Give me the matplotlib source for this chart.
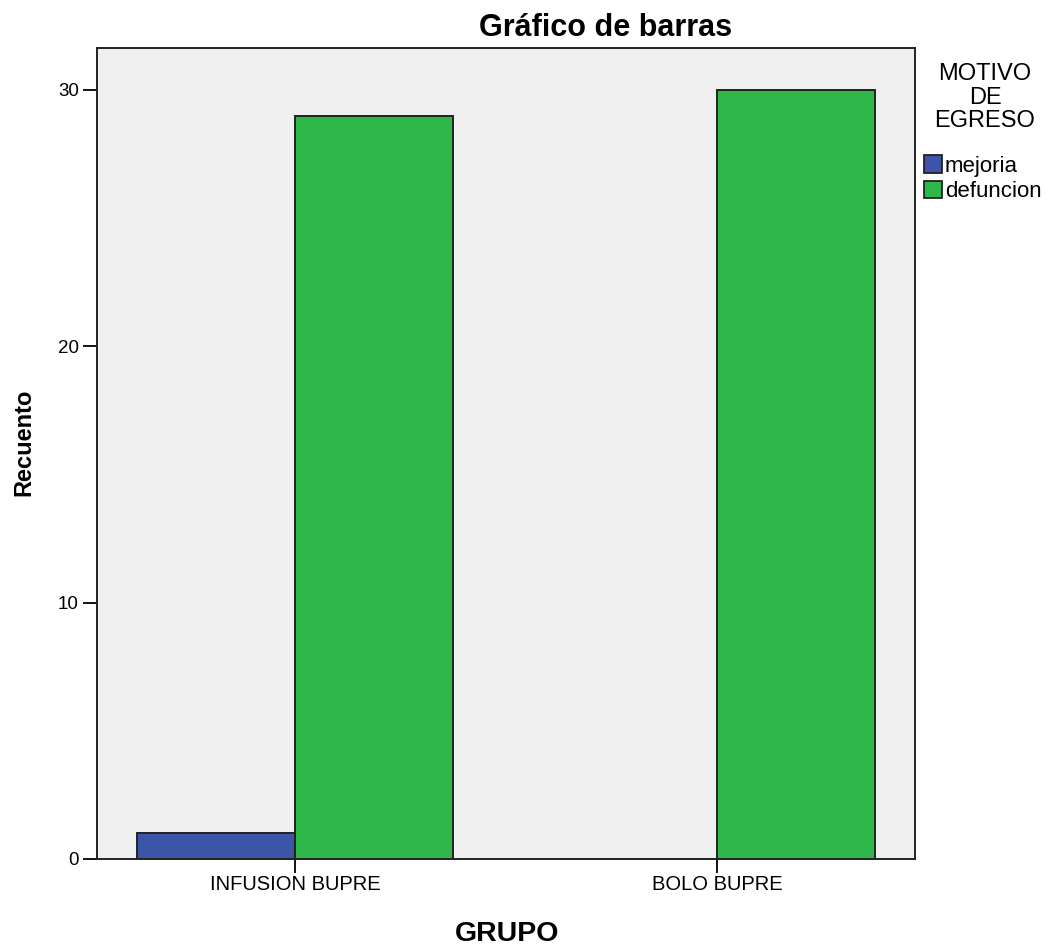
import numpy as np
import matplotlib
matplotlib.use("Agg")
import matplotlib.pyplot as plt
from matplotlib.patches import Patch

plt.rcParams['font.family'] = ['Liberation Sans', 'DejaVu Sans']

# data
grupos = ['INFUSION BUPRE', 'BOLO BUPRE']
mejoria = [1, 0]
defuncion = [29, 30]
series_names = ['mejoria', 'defuncion']
colors = ['#3d55a8', '#2fb84a']

fig = plt.figure(figsize=(10.49, 9.48), dpi=100)
ax = fig.add_axes([0.0925, 0.094, 0.78, 0.8555])
ax.set_facecolor('#f0f0f0')

x = np.arange(len(grupos))
w = 0.374
ax.bar(x - w / 2, mejoria, width=w, color=colors[0], edgecolor='#222222', linewidth=1.4)
ax.bar(x + w / 2, defuncion, width=w, color=colors[1], edgecolor='#222222', linewidth=1.4)

ax.set_xlim(-0.469, 1.469)
ax.set_ylim(0, 31.64)
ax.set_xticks(x)
ax.set_xticklabels(grupos, fontsize=14.5)
ax.set_yticks([0, 10, 20, 30])
ax.tick_params(axis='y', labelsize=13.5, length=10, width=1.3, pad=3)
ax.tick_params(axis='x', length=10, width=1.3, pad=1.5)
for s in ax.spines.values():
    s.set_linewidth(1.4)
    s.set_color('#222222')

# title, axis labels placed on the figure like the original
fig.text(0.577, 0.962, 'Gráfico de barras', ha='center', va='baseline',
         fontsize=22, fontweight='bold')
fig.text(0.023, 0.533, 'Recuento', ha='center', va='center', rotation=90,
         fontsize=17, fontweight='bold')
fig.text(0.4835, 0.0074, 'GRUPO', ha='center', va='baseline',
         fontsize=20.5, fontweight='bold')

# legend
fig.text(0.939, 0.9335, 'MOTIVO\nDE\nEGRESO', ha='center', va='top',
         fontsize=17, linespacing=1.1)
handles = [Patch(facecolor=c, edgecolor='#222222', linewidth=1.3, label=n)
           for c, n in zip(colors, series_names)]
fig.legend(handles=handles, loc='upper left', bbox_to_anchor=(0.881, 0.836),
           frameon=False, fontsize=16, handlelength=0.82, handleheight=0.82,
           handletextpad=0.12, labelspacing=0.18, borderpad=0, borderaxespad=0)

fig.savefig('out.png', dpi=100, facecolor='white')
